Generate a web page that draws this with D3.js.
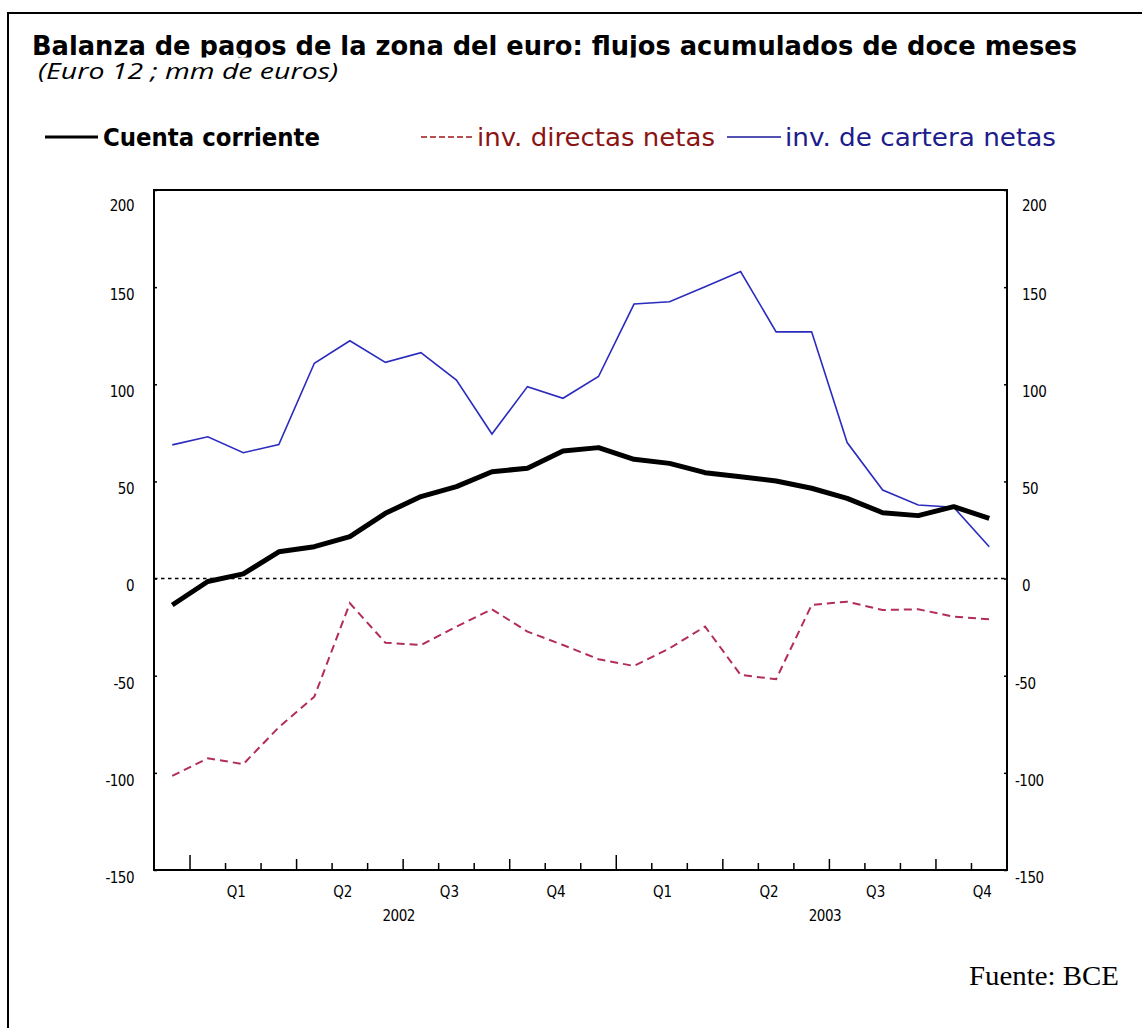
<!DOCTYPE html>
<html>
<head>
<meta charset="utf-8">
<script src="https://cdn.jsdelivr.net/npm/d3@7"></script>
<style>
  body { margin: 0; background: #fff; }
  svg { display: block; }
</style>
</head>
<body>
<svg class="chart" width="1142" height="1028"></svg>
<script>
// meses dic-2001 .. nov-2003
const months = ["2001-12",
  "2002-01", "2002-02", "2002-03", "2002-04", "2002-05", "2002-06",
  "2002-07", "2002-08", "2002-09", "2002-10", "2002-11", "2002-12",
  "2003-01", "2003-02", "2003-03", "2003-04", "2003-05", "2003-06",
  "2003-07", "2003-08", "2003-09", "2003-10", "2003-11"];

const cuenta = [-13.6, -1.5, 2.4, 13.8, 16.4, 21.6, 33.6, 42.2, 47.3, 55, 56.8, 65.7,
  67.4, 61.4, 59.3, 54.5, 52.4, 50.2, 46.5, 41.3, 33.9, 32.4, 37, 31];
const directas = [-101.6, -92.5, -95.5, -76.5, -60.8, -12.7, -33, -34.2, -24.7, -15.8, -27.3, -34.2,
  -41.5, -45, -35.9, -24.7, -49.6, -51.8, -13.6, -11.9, -16.2, -15.8, -19.6, -21];
const cartera = [68.8, 73, 64.8, 69, 110.8, 122.4, 111.3, 116.3, 102.2, 74.4, 98.8, 92.8,
  104, 141.3, 142.5, 150.2, 158, 127, 127, 70, 45.6, 37.9, 36.7, 16.4];

const yTicks = [-150, -100, -50, 0, 50, 100, 150, 200];
const yearStarts = ["2002-01", "2003-01"];
const quarterStarts = ["2002-04", "2002-07", "2002-10", "2003-04", "2003-07", "2003-10"];
const quarterLabels = [
  { label: "Q1", month: "2002-02" }, { label: "Q2", month: "2002-05" },
  { label: "Q3", month: "2002-08" }, { label: "Q4", month: "2002-11" },
  { label: "Q1", month: "2003-02" }, { label: "Q2", month: "2003-05" },
  { label: "Q3", month: "2003-08" }, { label: "Q4", month: "2003-11" }];
const yearLabels = [{ label: "2002", month: "2002-07" }, { label: "2003", month: "2003-07" }];

const svg = d3.select("svg.chart");
const plotLeft = 154, plotRight = 1007, plotTop = 190, plotBottom = 870;

const x = d3.scaleBand().domain(months).range([plotLeft + 0.5, plotRight]).padding(0);
const bw = x.bandwidth();
const y = d3.scaleLinear().domain([-150, 200]).range([plotBottom, plotTop]);

const tickFont = "'DejaVu Sans Condensed', 'DejaVu Sans', sans-serif";

// marco exterior
svg.append("rect")
  .attr("x", 8).attr("y", 13).attr("width", 1200).attr("height", 1100)
  .attr("fill", "none").attr("stroke", "#000").attr("stroke-width", 2);

// titulo (recortado por abajo como en el original)
svg.append("clipPath").attr("id", "tclip")
  .append("rect").attr("x", 0).attr("y", 0).attr("width", 1142).attr("height", 57.5);
svg.append("text")
  .attr("clip-path", "url(#tclip)")
  .attr("x", 32).attr("y", 55)
  .attr("textLength", 1045).attr("lengthAdjust", "spacingAndGlyphs")
  .style("font-family", "'DejaVu Sans', sans-serif")
  .style("font-weight", "bold").style("font-size", "26px")
  .text("Balanza de pagos de la zona del euro: flujos acumulados de doce meses");

svg.append("text")
  .attr("x", 38).attr("y", 79)
  .attr("textLength", 300).attr("lengthAdjust", "spacingAndGlyphs")
  .style("font-family", "'Open Sans', sans-serif")
  .style("font-style", "italic").style("font-size", "21px")
  .text("(Euro 12 ; mm de euros)");

// leyenda
const leg = svg.append("g").style("font-family", "'DejaVu Sans', sans-serif").style("font-size", "24px");
leg.append("line").attr("x1", 45).attr("x2", 98).attr("y1", 137).attr("y2", 137)
  .attr("stroke", "#000").attr("stroke-width", 3);
leg.append("text").attr("x", 103).attr("y", 146)
  .attr("textLength", 217).attr("lengthAdjust", "spacingAndGlyphs")
  .style("font-weight", "bold").text("Cuenta corriente");
leg.append("line").attr("x1", 421).attr("x2", 473).attr("y1", 137).attr("y2", 137)
  .attr("stroke", "#9a1818").attr("stroke-width", 1.5).attr("stroke-dasharray", "6,3");
leg.append("text").attr("x", 477).attr("y", 146)
  .attr("textLength", 238).attr("lengthAdjust", "spacingAndGlyphs")
  .attr("fill", "#8b1414").text("inv. directas netas");
leg.append("line").attr("x1", 727).attr("x2", 781).attr("y1", 137).attr("y2", 137)
  .attr("stroke", "#1a1a9a").attr("stroke-width", 1.5);
leg.append("text").attr("x", 785).attr("y", 146)
  .attr("textLength", 271).attr("lengthAdjust", "spacingAndGlyphs")
  .attr("fill", "#1c1c8c").text("inv. de cartera netas");

// ejes y
const yl = svg.append("g").attr("transform", `translate(${plotLeft},0)`)
  .call(d3.axisLeft(y).tickValues(yTicks).tickSizeInner(-3).tickSizeOuter(0)
    .tickPadding(20).tickFormat(d => String(d)));
const yr = svg.append("g").attr("transform", `translate(${plotRight},0)`)
  .call(d3.axisRight(y).tickValues(yTicks).tickSizeInner(-3).tickSizeOuter(0)
    .tickPadding(15).tickFormat(d => String(d)));
[yl, yr].forEach(g => {
  g.select(".domain").remove();
  g.selectAll(".tick line").attr("stroke", "#000").attr("stroke-width", 1.5);
  g.selectAll(".tick text")
    .attr("fill", "#000")
    .style("font-family", tickFont).style("font-size", "15px")
    .style("letter-spacing", "-0.5px")
    .attr("transform", d => `translate(0,${d === 200 ? 16 : 7.5})`);
});
yr.selectAll(".tick text").attr("dx", d => d < 0 ? -7 : 0);

// linea de cero
svg.append("line")
  .attr("x1", plotLeft).attr("x2", plotRight).attr("y1", y(0)).attr("y2", y(0))
  .attr("stroke", "#000").attr("stroke-width", 1.5).attr("stroke-dasharray", "3.5,3.5");

// ticks x
const xt = svg.append("g");
xt.selectAll("line").data(months.slice(1)).enter().append("line")
  .attr("x1", d => x(d)).attr("x2", d => x(d))
  .attr("y1", plotBottom)
  .attr("y2", d => plotBottom - (yearStarts.includes(d) ? 15 : quarterStarts.includes(d) ? 11 : 7))
  .attr("stroke", "#000").attr("stroke-width", 1.5);

xt.selectAll("text.q").data(quarterLabels).enter().append("text")
  .attr("class", "q")
  .attr("x", d => x(d.month) + bw / 2 - 7).attr("y", 897)
  .attr("text-anchor", "middle")
  .style("font-family", tickFont).style("font-size", "15px")
  .text(d => d.label);
xt.selectAll("text.yr").data(yearLabels).enter().append("text")
  .attr("class", "yr")
  .attr("x", d => x(d.month) - 4.5).attr("y", 921)
  .attr("text-anchor", "middle")
  .style("font-family", tickFont).style("font-size", "15px")
  .style("letter-spacing", "-0.5px")
  .text(d => d.label);

// series
const line = d3.line().x((d, i) => x(months[i]) + bw / 2).y(d => y(d));

svg.append("path").datum(directas)
  .attr("d", line).attr("fill", "none")
  .attr("stroke", "#b22d5b").attr("stroke-width", 2).attr("stroke-dasharray", "8,5");

svg.append("path").datum(cartera)
  .attr("d", line).attr("fill", "none")
  .attr("stroke", "#2b2bbf").attr("stroke-width", 1.6);

svg.append("path").datum(cuenta)
  .attr("d", line).attr("fill", "none")
  .attr("stroke", "#000").attr("stroke-width", 5).attr("stroke-linejoin", "round");

// marco del grafico
svg.append("rect")
  .attr("x", plotLeft).attr("y", plotTop).attr("width", plotRight - plotLeft).attr("height", plotBottom - plotTop)
  .attr("fill", "none").attr("stroke", "#000").attr("stroke-width", 2);

// fuente
svg.append("text")
  .attr("x", 969).attr("y", 985)
  .attr("textLength", 150).attr("lengthAdjust", "spacingAndGlyphs")
  .style("font-family", "'Liberation Serif', 'Times New Roman', serif")
  .style("font-size", "28px")
  .text("Fuente: BCE");
</script>
</body>
</html>
